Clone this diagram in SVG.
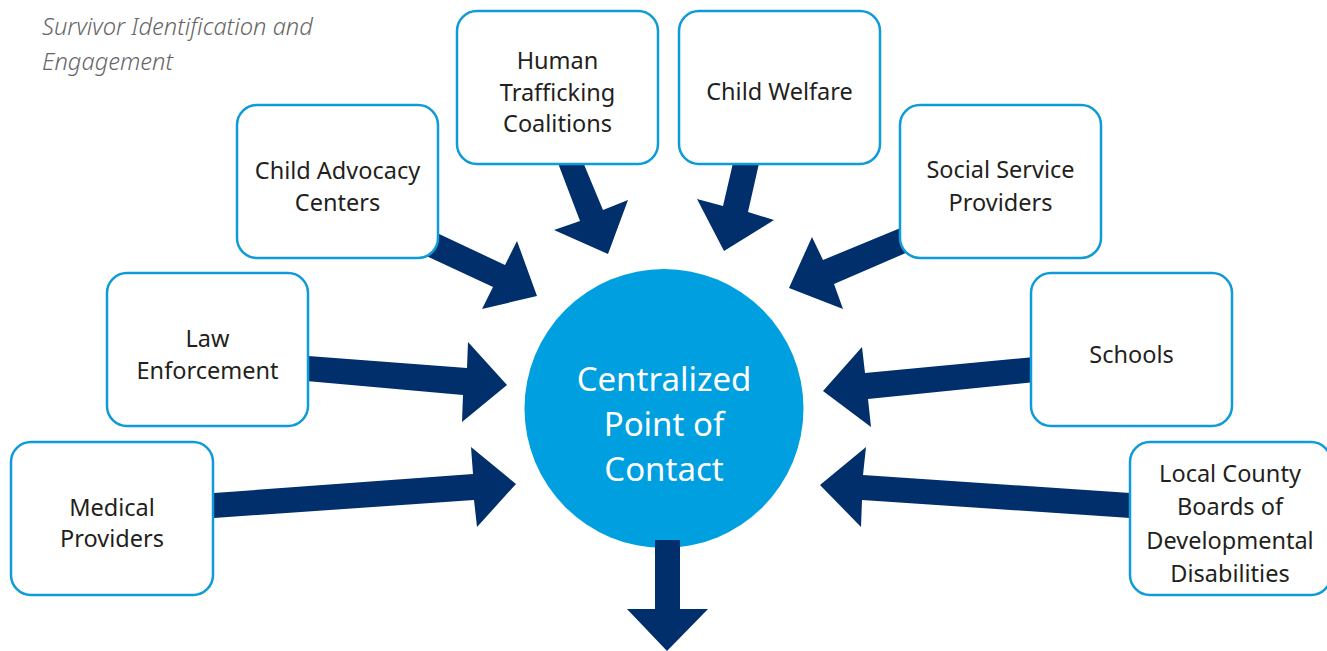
<svg xmlns="http://www.w3.org/2000/svg" width="1327" height="651" viewBox="0 0 1327 651">
<style>
.box{fill:#fff;stroke:#0E9BD8;stroke-width:2.5}
.lbl{font-family:"Noto Sans","Liberation Sans",sans-serif;font-size:23.5px;fill:#231F20;text-anchor:middle}
.arr{fill:#002F6C}
.ctr{font-family:"Noto Sans","Liberation Sans",sans-serif;font-size:33px;fill:#fff;text-anchor:middle}
.ttl{font-family:"Noto Sans","Liberation Sans",sans-serif;font-size:23.7px;font-style:italic;font-weight:300;fill:#666}
</style>
<rect width="1327" height="651" fill="#fff"/>
<text class="ttl" x="42" y="35">Survivor Identification and</text>
<text class="ttl" x="42" y="70">Engagement</text>
<g id="center">
<circle cx="664" cy="408.5" r="139.5" fill="#009FDF"/>
<text class="ctr"><tspan x="664" y="391">Centralized</tspan><tspan x="664" y="436">Point of</tspan><tspan x="664" y="481">Contact</tspan></text>
</g>
<g id="connectors">
<polygon class="arr" points="420,225 505,265 517,241 537,296 482,309 493,287 420,253"/>
<polygon class="arr" points="553,150 578,150 603,210 628,200 608,254 554,230 580,221"/>
<polygon class="arr" points="736,150 762,150 748,212 774,220 724,251 697,199 723,206"/>
<polygon class="arr" points="915,222 823,260 812,237 789,288 843,309 834,284 915,249"/>
<polygon class="arr" points="1045,356 865,373 862,347 823,391 871,427 868,399 1045,381"/>
<polygon class="arr" points="1145,494 863,475 866,447 820,485 861,527 862,500 1145,519"/>
<polygon class="arr" points="295,355 467,368 468,342 507,385 462,422 463,395 295,380"/>
<polygon class="arr" points="200,494 473,474 471,447 516,484 477,527 474,500 200,519"/>
<polygon class="arr" points="655,540 680,540 680,609 708,609 667,651 627,609 655,609"/>
</g>
<g id="child-advocacy">
<rect class="box" x="237" y="105" width="201" height="153" rx="20"/>
<text class="lbl"><tspan x="337.5" y="179">Child Advocacy</tspan><tspan x="337.5" y="211">Centers</tspan></text>
</g>
<g id="human-trafficking">
<rect class="box" x="457" y="11" width="201" height="153" rx="20"/>
<text class="lbl"><tspan x="557.5" y="69">Human</tspan><tspan x="557.5" y="100.5">Trafficking</tspan><tspan x="557.5" y="132">Coalitions</tspan></text>
</g>
<g id="child-welfare">
<rect class="box" x="679" y="11" width="201" height="153" rx="20"/>
<text class="lbl" x="779.5" y="100">Child Welfare</text>
</g>
<g id="social-service">
<rect class="box" x="900" y="105" width="201" height="153" rx="20"/>
<text class="lbl"><tspan x="1000.5" y="178">Social Service</tspan><tspan x="1000.5" y="211">Providers</tspan></text>
</g>
<g id="law-enforcement">
<rect class="box" x="107" y="273" width="201" height="153" rx="20"/>
<text class="lbl"><tspan x="207.5" y="347">Law</tspan><tspan x="207.5" y="379">Enforcement</tspan></text>
</g>
<g id="schools">
<rect class="box" x="1031" y="273" width="201" height="153" rx="20"/>
<text class="lbl" x="1131.5" y="363">Schools</text>
</g>
<g id="medical-providers">
<rect class="box" x="11" y="442" width="202" height="153" rx="20"/>
<text class="lbl"><tspan x="112" y="516">Medical</tspan><tspan x="112" y="547">Providers</tspan></text>
</g>
<g id="local-county">
<rect class="box" x="1130" y="442" width="201" height="153" rx="20"/>
<text class="lbl"><tspan x="1230" y="482">Local County</tspan><tspan x="1230" y="515">Boards of</tspan><tspan x="1230" y="549">Developmental</tspan><tspan x="1230" y="582">Disabilities</tspan></text>
</g>
</svg>
